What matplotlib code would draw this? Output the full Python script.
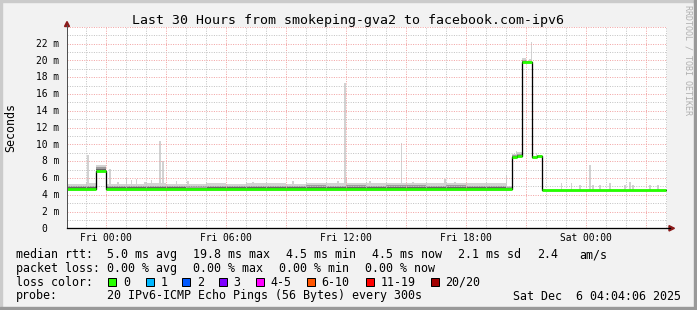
import numpy as np
import matplotlib
matplotlib.use("Agg")
import matplotlib.pyplot as plt
from matplotlib import transforms
from matplotlib.lines import Line2D
from matplotlib.patches import Polygon, Rectangle

# time axis in hours relative to Fri 00:00, graph ends Sat 04:04:06
t_start = -1.9317
t_end = 28.0683
step_h = 5 / 60.0          # one sample every 300s

# median rtt, constant segments (hours, ms)
seg_start = [-1.9167, -0.5, 0.0, 20.333, 20.583, 20.833, 21.333, 21.583, 21.833]
seg_end = [-0.5, 0.0, 20.333, 20.583, 20.833, 21.333, 21.583, 21.833, 28.0]
seg_median = [4.62, 6.8, 4.62, 8.45, 8.6, 19.8, 8.45, 8.6, 4.56]

# smoke spread above the median per hour (hour -2 .. 27), ms
smoke_hours = list(range(-2, 28))
smoke_spread = [0.7, 0.75, 0.7, 0.7, 0.75, 0.7, 0.65, 0.75, 0.7, 0.75,
                0.75, 0.7, 0.8, 0.75, 0.8, 0.75, 0.8, 0.8, 0.75, 0.8,
                0.75, 0.75, 0.45, 0.15, 0.05, 0.05, 0.05, 0.05, 0.05, 0.05]
smoke_below = 0.15

# single sample smoke spikes (hour, max ms)
spike_t = [-0.915, 0.17, 0.62, 1.05, 1.32, 1.52, 1.92, 2.27, 2.67, 2.87,
           3.55, 4.12, 7.37, 7.87, 9.37, 11.63, 11.92, 12.05, 13.22, 14.83,
           15.38, 16.97, 17.47, 20.07, 20.52, 21.17, 21.25, 21.5, 22.75, 23.25,
           23.67, 24.17, 24.38, 24.72, 25.17, 25.92, 26.17, 26.35, 27.17, 27.6]
spike_top = [8.7, 7.05, 5.5, 5.95, 5.75, 5.9, 5.5, 5.75, 10.4, 8.0,
             5.6, 5.6, 5.5, 5.4, 5.6, 5.6, 17.3, 6.1, 5.6, 10.1,
             5.5, 5.9, 5.5, 6.3, 9.2, 20.2, 22.2, 9.0, 5.4, 5.4,
             5.15, 7.5, 5.15, 5.15, 5.4, 5.15, 5.5, 5.15, 5.1, 5.1]

x_ticks = [0, 6, 12, 18, 24]
x_labels = ["Fri 00:00", "Fri 06:00", "Fri 12:00", "Fri 18:00", "Sat 00:00"]
y_ticks = [0, 2, 4, 6, 8, 10, 12, 14, 16, 18, 20, 22]
y_labels = ["0"] + [f"{v} m" for v in y_ticks[1:]]

loss_labels = ["0", "1", "2", "3", "4-5", "6-10", "11-19", "20/20"]
loss_colors = ["#26ff00", "#00b8ff", "#0059ff", "#7e00ff", "#ff00ff", "#ff5500", "#ff0000", "#a10000"]

W, H = 697, 310
PX = 0.72  # one pixel in points at dpi 100
MONO = "DejaVu Sans Mono"


def fx(x):
    return x / W


def fy(y):
    return 1 - y / H


fig = plt.figure(figsize=(W / 100, H / 100), dpi=100, facecolor="#f2f2f2")

# 3d frame
fig.patches.append(Rectangle((0, 1 - 2 / H), 1, 2 / H, transform=fig.transFigure, color="#cbcbcb", zorder=0))
fig.patches.append(Rectangle((0, 0), 2 / W, 1, transform=fig.transFigure, color="#cbcbcb", zorder=0))
fig.patches.append(Rectangle((0, 0), 1, 3 / H, transform=fig.transFigure, color="#999999", zorder=0))
fig.patches.append(Rectangle((1 - 3 / W, 0), 3 / W, 1, transform=fig.transFigure, color="#999999", zorder=0))

left, right, top, bottom = 67, 667, 26.7, 228.3
ax = fig.add_axes([fx(left), fy(bottom), fx(right - left), (bottom - top) / H])
ax.set_facecolor("white")
for s in ax.spines.values():
    s.set_visible(False)
ax.set_xticks([])
ax.set_yticks([])
ax.set_xlim(t_start, t_end)
ax.set_ylim(0, 24)

# per sample series
n0 = int(round((seg_start[0]) / step_h))
n1 = int(round(seg_end[-1] / step_h))
t = np.arange(n0, n1) * step_h
med = np.zeros_like(t)
for a, b, v in zip(seg_start, seg_end, seg_median):
    med[(t >= a - 1e-6) & (t < b - 1e-6)] = v
spread = np.array([smoke_spread[smoke_hours.index(int(np.floor(x)))] for x in t])

# smoke
ax.bar(t, spread + smoke_below, bottom=med - smoke_below, width=step_h, align="edge",
       color="#d3d3d3", linewidth=0, zorder=1)
ax.bar(t, spread * 0.6 + 0.1, bottom=med - 0.1, width=step_h, align="edge",
       color="#9e9e9e", linewidth=0, zorder=1.1)
ax.bar(t, spread * 0.35 + 0.05, bottom=med - 0.05, width=step_h, align="edge",
       color="#666666", linewidth=0, zorder=1.2)
for st, top_v in zip(spike_t, spike_top):
    k = int(np.floor((st - t[0]) / step_h))
    ax.bar(t[k], top_v - med[k], bottom=med[k], width=step_h, align="edge",
           color="#d2d2d2", linewidth=0, zorder=1.05)

# grid, dotted 1px on / 1px off
for h in range(-1, 29):
    major = h % 3 == 0
    ax.axvline(h, color="#f2a4a4" if major else "#c4c4c4", lw=PX, ls=(0, (1, 1.4)),
               zorder=2)
for v in range(1, 25):
    major = v % 2 == 0
    ax.axhline(v, color="#f2a4a4" if major else "#c4c4c4", lw=PX, ls=(0, (1, 1.4)),
               zorder=2)

# median line
edges = np.append(t, t[-1] + step_h)
ax.step(edges, np.append(med, med[-1]), where="post", color="black", lw=1.3 * PX, zorder=3)
ax.hlines(seg_median, seg_start, seg_end, color=loss_colors[0], lw=2.8 * PX, zorder=4)

# axes and arrows
fig.add_artist(Line2D([fx(67), fx(67)], [fy(bottom), fy(25)], transform=fig.transFigure,
                      color="#505050", lw=PX))
fig.add_artist(Line2D([fx(67), fx(670)], [fy(bottom), fy(bottom)], transform=fig.transFigure,
                      color="black", lw=1.3 * PX))
fig.patches.append(Polygon([(fx(64.5), fy(26.5)), (fx(69.5), fy(26.5)), (fx(67), fy(21.5))],
                           closed=True, transform=fig.transFigure, color="#8b1a1a"))
fig.patches.append(Polygon([(fx(669), fy(225.6)), (fx(669), fy(231)), (fx(674.5), fy(228.3))],
                           closed=True, transform=fig.transFigure, color="#8b1a1a"))

# tick labels
ytrans = transforms.blended_transform_factory(ax.transAxes, ax.transData) + \
    transforms.ScaledTranslation(0, -3.4 / 100, fig.dpi_scale_trans)
for v, lab in zip(y_ticks, y_labels):
    xr = 59.5 if lab != "0" else 47.5
    ax.text((xr - left) / (right - left), v, lab, transform=ytrans, ha="right", va="baseline",
            family=MONO, fontsize=6.9)
xtrans = transforms.blended_transform_factory(ax.transData, ax.transAxes)
for h, lab in zip(x_ticks, x_labels):
    ax.text(h, (bottom - 241) / (bottom - top), lab, transform=xtrans, ha="center", va="baseline",
            family=MONO, fontsize=6.9)

# titles
fig.text(fx(348), fy(24), "Last 30 Hours from smokeping-gva2 to facebook.com-ipv6",
         ha="center", va="baseline", family=MONO, fontsize=9.5)
fig.text(fx(10.5), fy(127.5), "Seconds", rotation=90, ha="center", va="center",
         family=MONO, fontsize=8.4)
fig.text(fx(688), fy(60), "RRDTOOL / TOBI OETIKER", rotation=-90, ha="center", va="center",
         family=MONO, fontsize=6, color="#b0b0b0")

# legend
fs = 8.35
rows = [258.3, 271.9, 285.7, 299.5]
fig.text(fx(16), fy(rows[0]), "median rtt:", family=MONO, fontsize=fs, va="baseline")
for x, s in [(107.3, "5.0 ms avg"), (193.3, "19.8 ms max"), (286, "4.5 ms min"),
             (371.7, "4.5 ms now"), (458.3, "2.1 ms sd"), (537.3, "2.4"), (579.3, "am/s")]:
    fig.text(fx(x), fy(rows[0]), s, family=MONO, fontsize=fs, va="baseline")
fig.text(fx(16), fy(rows[1]), "packet loss:", family=MONO, fontsize=fs, va="baseline")
for x, s in [(107.3, "0.00 % avg"), (193.3, "0.00 % max"), (279.3, "0.00 % min"), (365, "0.00 % now")]:
    fig.text(fx(x), fy(rows[1]), s, family=MONO, fontsize=fs, va="baseline")
fig.text(fx(16), fy(rows[2]), "loss color:", family=MONO, fontsize=fs, va="baseline")
box_x = [108.3, 145.7, 182.3, 219, 255.7, 306.7, 365.7, 431]
for bx, lab, col in zip(box_x, loss_labels, loss_colors):
    fig.patches.append(Rectangle((fx(bx), fy(286.2)), 8 / W, 8 / H, transform=fig.transFigure,
                                 facecolor=col, edgecolor="black", lw=PX))
    fig.text(fx(bx + 14.5), fy(rows[2]), lab, family=MONO, fontsize=fs, va="baseline")
fig.text(fx(16), fy(rows[3]), "probe:", family=MONO, fontsize=fs, va="baseline")
fig.text(fx(107.3), fy(rows[3]), "20 IPv6-ICMP Echo Pings (56 Bytes) every 300s",
         family=MONO, fontsize=fs, va="baseline")
fig.text(fx(513.3), fy(rows[3]), "Sat Dec  6 04:04:06 2025", family=MONO, fontsize=fs, va="baseline")

fig.savefig("out.png", dpi=100, facecolor=fig.get_facecolor())
